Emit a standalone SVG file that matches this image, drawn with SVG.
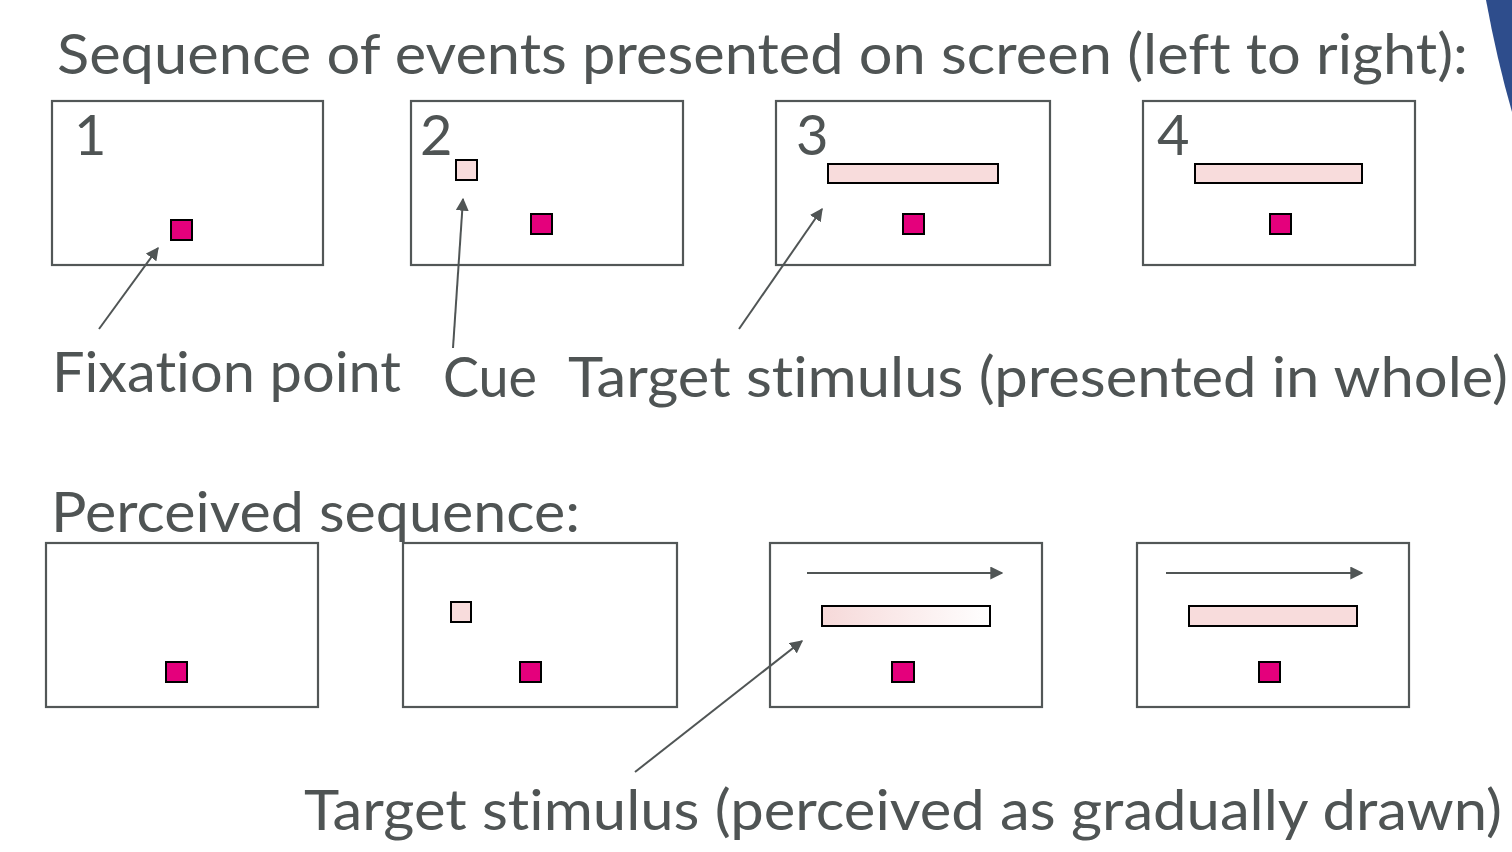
<svg xmlns="http://www.w3.org/2000/svg" width="1512" height="852" viewBox="0 0 1512 852">
<defs>
<style>
.frame{fill:#fff;stroke:#525757;stroke-width:2.2}
.fix{fill:#e4007c;stroke:#000;stroke-width:2}
.cue{fill:#f8dcdc;stroke:#000;stroke-width:2}
.bar{fill:#f8dcdc;stroke:#000;stroke-width:2}
.ptr{fill:none;stroke:#505555;stroke-width:2;marker-end:url(#ah)}
.txt{font-family:Lato,"Open Sans","Liberation Sans",sans-serif;fill:#4f5454;font-size:56px;font-variant-ligatures:none;font-feature-settings:"liga" 0}
.num{font-family:Lato,"Open Sans","Liberation Sans",sans-serif;fill:#4f5454;font-size:56px}
</style>
<marker id="ah" viewBox="0 0 10 10" refX="9" refY="5" markerWidth="6.5" markerHeight="6.5" orient="auto" markerUnits="strokeWidth">
<path d="M0,0 L10,5 L0,10 Z" fill="#505555"/>
</marker>
<linearGradient id="fade" x1="0" y1="0" x2="1" y2="0">
<stop offset="0" stop-color="#f6d9d9"/>
<stop offset="1" stop-color="#ffffff"/>
</linearGradient>
</defs>
<rect width="1512" height="852" fill="#fff"/>
<path d="M1486,0 L1512,0 L1512,112 Q1497,60 1486,0 Z" fill="#2e4d8c"/>

<text class="txt" x="57" y="74" textLength="1411" lengthAdjust="spacingAndGlyphs">Sequence of events presented on screen (left to right):</text>

<g id="top1">
<rect class="frame" x="52" y="101" width="271" height="164"/>
<text class="num" x="74" y="155">1</text>
<rect class="fix" x="171" y="220" width="21" height="20"/>
</g>
<g id="top2">
<rect class="frame" x="411" y="101" width="272" height="164"/>
<text class="num" x="420" y="155">2</text>
<rect class="cue" x="456" y="160" width="21" height="20"/>
<rect class="fix" x="531" y="214" width="21" height="20"/>
</g>
<g id="top3">
<rect class="frame" x="776" y="101" width="274" height="164"/>
<text class="num" x="796" y="155">3</text>
<rect class="bar" x="828" y="164" width="170" height="19"/>
<rect class="fix" x="903" y="214" width="21" height="20"/>
</g>
<g id="top4">
<rect class="frame" x="1143" y="101" width="272" height="164"/>
<text class="num" x="1157" y="155">4</text>
<rect class="bar" x="1195" y="164" width="167" height="19"/>
<rect class="fix" x="1270" y="214" width="21" height="20"/>
</g>

<g id="labels-top">
<text class="txt" x="52" y="392" textLength="349" lengthAdjust="spacingAndGlyphs">Fixation point</text>
<text class="txt" x="443" y="397" textLength="94" lengthAdjust="spacingAndGlyphs">Cue</text>
<text class="txt" x="568" y="397" textLength="940" lengthAdjust="spacingAndGlyphs">Target stimulus (presented in whole)</text>
</g>

<text class="txt" x="51" y="532" textLength="529" lengthAdjust="spacingAndGlyphs">Perceived sequence:</text>

<g id="bot1">
<rect class="frame" x="46" y="543" width="272" height="164"/>
<rect class="fix" x="166" y="662" width="21" height="20"/>
</g>
<g id="bot2">
<rect class="frame" x="403" y="543" width="274" height="164"/>
<rect class="cue" x="451" y="602" width="20" height="20"/>
<rect class="fix" x="520" y="662" width="21" height="20"/>
</g>
<g id="bot3">
<rect class="frame" x="770" y="543" width="272" height="164"/>
<rect x="822" y="606" width="168" height="20" fill="url(#fade)" stroke="#000" stroke-width="2"/>
<rect class="fix" x="892" y="662" width="22" height="20"/>
</g>
<g id="bot4">
<rect class="frame" x="1137" y="543" width="272" height="164"/>
<rect class="bar" x="1189" y="606" width="168" height="20"/>
<rect class="fix" x="1259" y="662" width="21" height="20"/>
</g>

<text class="txt" x="304" y="830" textLength="1198" lengthAdjust="spacingAndGlyphs">Target stimulus (perceived as gradually drawn)</text>

<g id="connectors">
<line class="ptr" x1="99" y1="329" x2="158" y2="248"/>
<line class="ptr" x1="453" y1="348" x2="463" y2="199"/>
<line class="ptr" x1="739" y1="329" x2="822" y2="209"/>
<line class="ptr" x1="635" y1="772" x2="802" y2="641"/>
<line class="ptr" x1="807" y1="573" x2="1002" y2="573"/>
<line class="ptr" x1="1166" y1="573" x2="1362" y2="573"/>
</g>
</svg>
